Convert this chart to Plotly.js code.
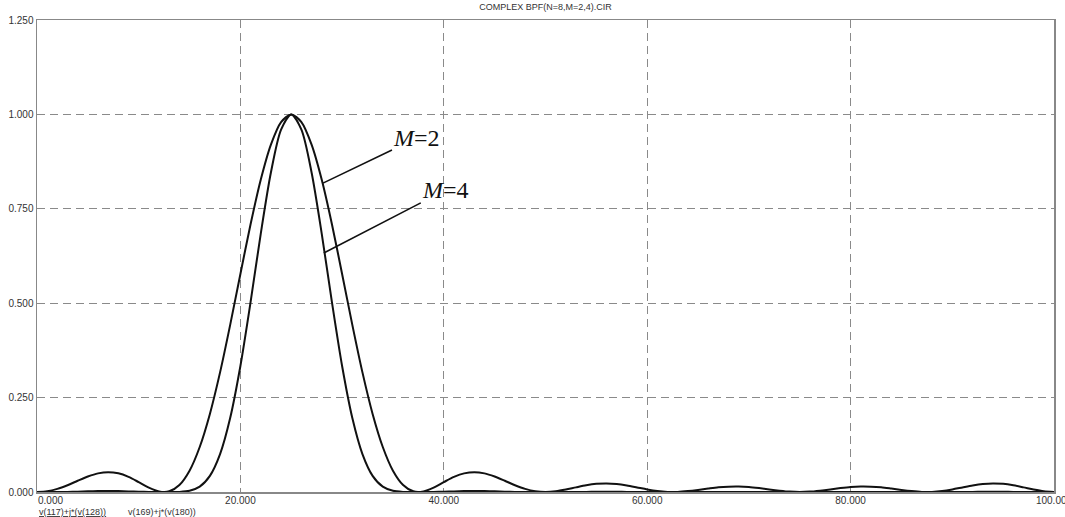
<!DOCTYPE html>
<html>
<head>
<meta charset="utf-8">
<script src="https://cdn.plot.ly/plotly-3.0.1.min.js"></script>
<style>html,body{margin:0;padding:0;background:#fff;}#chart{width:1065px;height:517px;}</style>
</head>
<body>
<div id="chart"></div>
<script>
// Frequency axis (0..100)
const freq = [0,1,2,3,4,5,6,7,8,9,10,11,12,13,14,15,16,17,18,19,20,21,22,23,24,25,26,27,28,29,30,31,32,33,34,35,36,37,38,39,40,41,42,43,44,45,46,47,48,49,50,51,52,53,54,55,56,57,58,59,60,61,62,63,64,65,66,67,68,69,70,71,72,73,74,75,76,77,78,79,80,81,82,83,84,85,86,87,88,89,90,91,92,93,94,95,96,97,98,99,100];

// M=2 response (wider main lobe, visible side lobes)
const respM2 = [0.0000,0.0021,0.0083,0.0180,0.0297,0.0409,0.0493,0.0525,0.0494,0.0400,
  0.0262,0.0117,0.0016,0.0018,0.0185,0.0565,0.1192,0.2068,0.3168,0.4433,
  0.5775,0.7091,0.8268,0.9198,0.9795,1.0000,0.9795,0.9198,0.8268,0.7091,
  0.5775,0.4433,0.3168,0.2068,0.1192,0.0565,0.0185,0.0018,0.0016,0.0117,
  0.0262,0.0400,0.0494,0.0525,0.0493,0.0409,0.0297,0.0180,0.0083,0.0021,
  0.0000,0.0018,0.0064,0.0123,0.0178,0.0216,0.0228,0.0212,0.0173,0.0121,
  0.0068,0.0026,0.0003,0.0003,0.0024,0.0055,0.0092,0.0125,0.0142,0.0145,
  0.0132,0.0103,0.0068,0.0036,0.0010,0.0000,0.0010,0.0036,0.0068,0.0103,
  0.0132,0.0145,0.0142,0.0125,0.0092,0.0055,0.0024,0.0003,0.0003,0.0026,
  0.0068,0.0121,0.0173,0.0212,0.0228,0.0216,0.0178,0.0123,0.0064,0.0018,
  0.0000];

// M=4 response (narrower main lobe, side lobes almost flat)
const respM4 = [0.0000,0.0000,0.0001,0.0003,0.0009,0.0017,0.0024,0.0028,0.0024,0.0016,
  0.0007,0.0001,0.0000,0.0000,0.0003,0.0032,0.0142,0.0428,0.1004,0.1965,
  0.3336,0.5028,0.6836,0.8460,0.9595,1.0000,0.9595,0.8460,0.6836,0.5028,
  0.3336,0.1965,0.1004,0.0428,0.0142,0.0032,0.0003,0.0000,0.0000,0.0001,
  0.0007,0.0016,0.0024,0.0028,0.0024,0.0017,0.0009,0.0003,0.0001,0.0000,
  0.0000,0.0000,0.0000,0.0002,0.0003,0.0005,0.0005,0.0004,0.0003,0.0001,
  0.0000,0.0000,0.0000,0.0000,0.0000,0.0000,0.0001,0.0002,0.0003,0.0003,
  0.0002,0.0001,0.0001,0.0000,0.0000,0.0000,0.0000,0.0000,0.0001,0.0001,
  0.0002,0.0003,0.0003,0.0002,0.0001,0.0000,0.0000,0.0000,0.0000,0.0000,
  0.0000,0.0001,0.0003,0.0004,0.0005,0.0005,0.0003,0.0002,0.0000,0.0000,
  0.0000];

// Tick labels
const xTickVals = [0,20,40,60,80,100];
const xTickText = ['0.000','20.000','40.000','60.000','80.000','100.000'];
const yTickVals = [0,0.25,0.5,0.75,1.0,1.25];
const yTickText = ['0.000','0.250','0.500','0.750','1.000','1.250'];

const chartTitle = 'COMPLEX BPF(N=8,M=2,4).CIR';
const seriesLabels = ['<i>M</i>=2','<i>M</i>=4'];
const labelPoints = [[28.12,0.818],[28.2,0.633]];
const traceNames = ['<u>v(117)+j*(v(128))</u>','v(169)+j*(v(180))'];

const lineStyle = {color:'#111', width:2, shape:'spline', smoothing:0.8};

const traces = [
  {x:freq, y:respM2, type:'scatter', mode:'lines', line:lineStyle, hoverinfo:'skip'},
  {x:freq, y:respM4, type:'scatter', mode:'lines', line:lineStyle, hoverinfo:'skip'}
];

const tickFont = {family:'"Liberation Sans", Arial, sans-serif', size:10, color:'#333'};
// first x label is drawn left-aligned (as in the reference) via an annotation
const axisTickText = xTickText.map((t, i) => i === 0 ? ' ' : t);

const layout = {
  width:1065, height:517,
  margin:{l:37, r:11, t:20, b:25, pad:0},
  paper_bgcolor:'#fff', plot_bgcolor:'#fff',
  showlegend:false,
  title:{text:chartTitle, font:{family:'"Liberation Sans", Arial, sans-serif', size:9, color:'#333'},
         x:0.5, xref:'paper', y:0.986, yref:'container', yanchor:'middle'},
  xaxis:{range:[0,100], tickvals:xTickVals, ticktext:axisTickText, ticks:'', tickfont:tickFont,
         showgrid:true, gridcolor:'#8a8a8a', gridwidth:1, griddash:'8px,5px',
         showline:true, mirror:true, linecolor:'#888', linewidth:1.5, zeroline:false,
         fixedrange:true, ticklabelstandoff:-2, ticklabeloverflow:'allow'},
  yaxis:{range:[0,1.25], tickvals:yTickVals, ticktext:yTickText, ticks:'', tickfont:tickFont,
         showgrid:true, gridcolor:'#8a8a8a', gridwidth:1, griddash:'8px,5px',
         showline:true, mirror:true, linecolor:'#888', linewidth:1.5, zeroline:false,
         fixedrange:true},
  annotations:[
    {x:labelPoints[0][0], y:labelPoints[0][1], xref:'x', yref:'y', text:seriesLabels[0],
     showarrow:true, arrowhead:0, arrowwidth:1.6, arrowcolor:'#111', ax:94, ay:-45, standoff:0,
     font:{family:'"Liberation Serif", "Times New Roman", serif', size:24, color:'#111'}},
    {x:labelPoints[1][0], y:labelPoints[1][1], xref:'x', yref:'y', text:seriesLabels[1],
     showarrow:true, arrowhead:0, arrowwidth:1.6, arrowcolor:'#111', ax:122, ay:-63, standoff:0,
     font:{family:'"Liberation Serif", "Times New Roman", serif', size:24, color:'#111'}},
    {x:xTickVals[0], y:-0.005, xref:'x', yref:'paper', xanchor:'left', yanchor:'top', showarrow:false,
     text:xTickText[0], font:tickFont, borderpad:0},
    {x:0, y:-0.043, xref:'paper', yref:'paper', xanchor:'left', yanchor:'middle', showarrow:false,
     text:traceNames[0], font:{family:'"Liberation Sans", Arial, sans-serif', size:9, color:'#333'}},
    {x:0.0875, y:-0.043, xref:'paper', yref:'paper', xanchor:'left', yanchor:'middle', showarrow:false,
     text:traceNames[1], font:{family:'"Liberation Sans", Arial, sans-serif', size:9, color:'#333'}}
  ]
};

Plotly.newPlot('chart', traces, layout, {staticPlot:true, displayModeBar:false});
</script>
</body>
</html>
